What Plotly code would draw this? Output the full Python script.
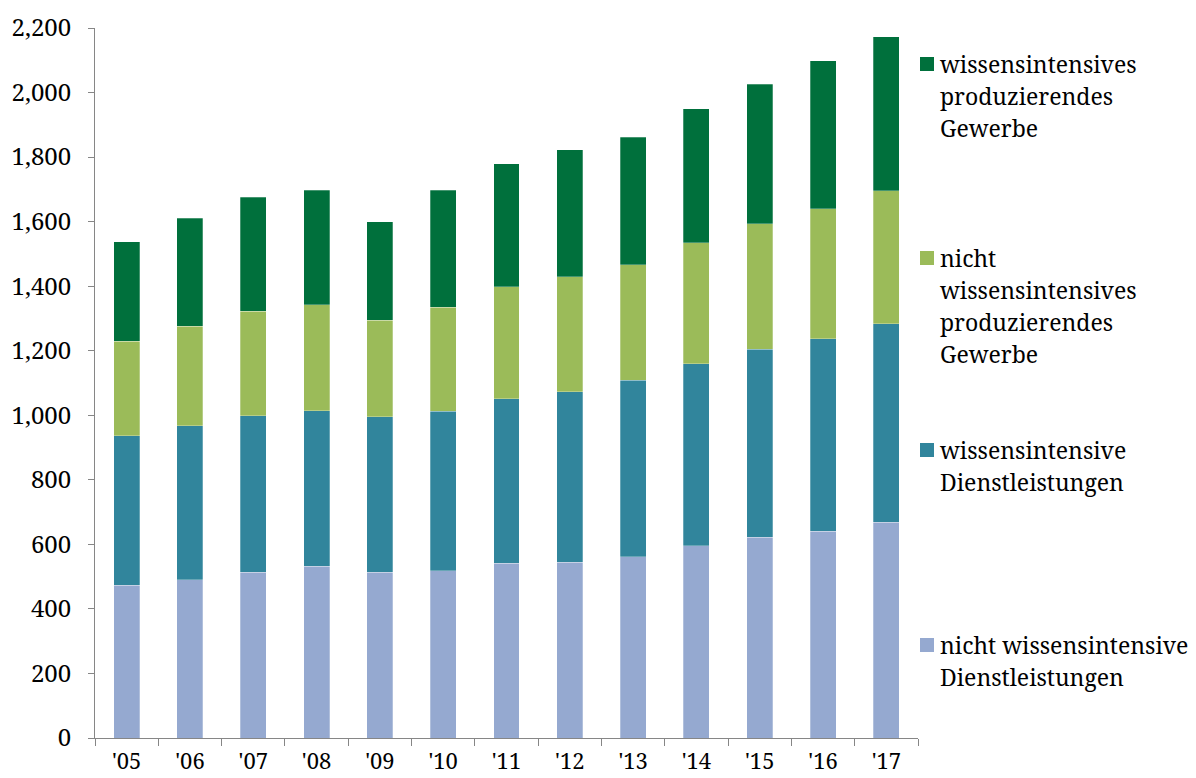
import plotly.graph_objects as go

# Years and employment-type series (stacked from bottom to top)
years = ["'05", "'06", "'07", "'08", "'09", "'10", "'11", "'12", "'13", "'14", "'15", "'16", "'17"]

nicht_wiss_dienst = [474, 490, 514, 532, 514, 518, 542, 545, 561, 595, 622, 641, 668]
wiss_dienst = [463, 477, 484, 482, 482, 494, 509, 528, 548, 565, 582, 596, 616]
nicht_wiss_prod = [292, 309, 324, 328, 298, 322, 347, 356, 358, 374, 389, 403, 412]
wiss_prod = [309, 335, 354, 356, 306, 364, 382, 393, 395, 416, 432, 459, 477]

series = [
    (["nicht wissensintensive", "Dienstleistungen"], nicht_wiss_dienst, "#95A9D0"),
    (["wissensintensive", "Dienstleistungen"], wiss_dienst, "#31859C"),
    (["nicht", "wissensintensives", "produzierendes", "Gewerbe"], nicht_wiss_prod, "#9BBB59"),
    (["wissensintensives", "produzierendes", "Gewerbe"], wiss_prod, "#00703C"),
]

W, H = 1196, 778
L, R, T, B = 95, 278, 28, 40
plot_w = W - L - R
plot_h = H - T - B

font_family = "Noto Serif, DejaVu Serif, serif"

fig = go.Figure()
for lines, vals, col in series:
    fig.add_trace(go.Bar(
        x=years, y=vals, name=" ".join(lines),
        marker=dict(color=col, line=dict(color="rgba(255,255,255,0.45)", width=0.6)),
        showlegend=False,
    ))


def px_x(px):
    return (px - L) / plot_w


def px_y(py):
    return (H - B - py) / plot_h


# Hand-placed legend on the right: colour square + label lines
legend_items = [(series[3], 64), (series[2], 258), (series[1], 450), (series[0], 645)]
line_step = 32
shapes = []
annotations = []
for (lines, _, col), cy in legend_items:
    shapes.append(dict(
        type="rect", xref="paper", yref="paper",
        x0=px_x(920), x1=px_x(934),
        y0=px_y(cy + 7), y1=px_y(cy - 7),
        fillcolor=col, line=dict(width=0),
    ))
    for i, txt in enumerate(lines):
        annotations.append(dict(
            xref="paper", yref="paper",
            x=px_x(938), y=px_y(cy + i * line_step),
            xanchor="left", yanchor="middle", align="left",
            text=txt, showarrow=False,
            font=dict(family=font_family, size=23, color="#000000"),
        ))

fig.update_layout(
    barmode="stack",
    bargap=0.59,
    width=W, height=H,
    margin=dict(l=L, r=R, t=T, b=B),
    paper_bgcolor="white", plot_bgcolor="white",
    font=dict(family=font_family, size=24, color="#000000"),
    shapes=shapes,
    annotations=annotations,
    xaxis=dict(
        type="category", automargin=False,
        showline=True, linecolor="#868686", linewidth=1,
        ticks="outside", tickson="boundaries", ticklen=7, tickcolor="#868686",
        showgrid=False, zeroline=False, ticklabelstandoff=4,
        tickfont=dict(family=font_family, size=22, color="#000000"),
    ),
    yaxis=dict(
        range=[0, 2200], dtick=200, tickformat=",d", automargin=False,
        showline=True, linecolor="#868686", linewidth=1,
        ticks="outside", ticklen=6, tickcolor="#868686",
        showgrid=False, zeroline=False, ticklabelstandoff=12,
        tickfont=dict(family=font_family, size=24, color="#000000"),
    ),
)

fig.write_html("out.html")
